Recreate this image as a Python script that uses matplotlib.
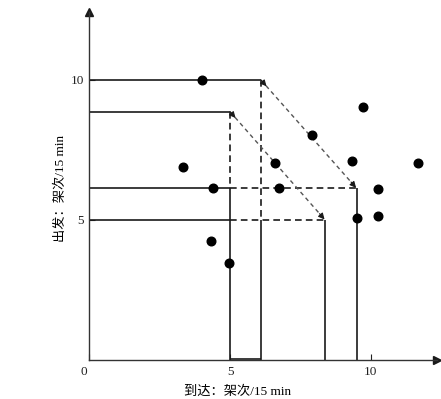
import numpy as np
import matplotlib
matplotlib.use('Agg')
import matplotlib.pyplot as plt
import matplotlib.transforms as mtransforms

plt.rcParams['font.family'] = ['Liberation Serif', 'Noto Sans CJK SC']

# observed (arrivals, departures) per 15 min
arr_pts = [3.99, 9.74, 7.91, 3.32, 9.32, 6.61, 11.69, 4.41, 6.73, 10.26, 9.50, 10.26, 4.34, 4.98]
dep_pts = [10.0, 9.03, 8.02, 6.90, 7.12, 7.05, 7.05, 6.15, 6.13, 6.10, 5.08, 5.14, 4.24, 3.45]

# capacity envelopes: corner (arr, dep) -> end (arr, dep)
cap_a_arr = [6.1, 9.5]
cap_a_dep = [10.0, 6.13]
cap_b_arr = [5.0, 8.38]
cap_b_dep = [8.87, 5.0]

x_ticks = [0, 5, 10]
y_ticks = [5, 10]

fig = plt.figure(figsize=(4.41, 3.99), dpi=100)
ax = fig.add_axes([89.3 / 441, 39 / 399, 347.7 / 441, 348 / 399])
ax.set_xlim(0, 347.7 / 28.14)
ax.set_ylim(0, 348 / 28.0)

lc = '#1a1a1a'
lw = 1.2
solid = dict(color=lc, lw=lw, solid_capstyle='butt')
dash = dict(color=lc, lw=lw, ls=(0, (4, 2.5)))

a0, a1 = cap_a_arr
d0, d1 = cap_a_dep
b0, b1 = cap_b_arr
e0, e1 = cap_b_dep

# solid outlines
ax.plot([0, a0], [d0, d0], **solid)
ax.plot([0, b0], [e0, e0], **solid)
ax.plot([0, b0], [d1, d1], **solid)
ax.plot([0, b0], [e1, e1], **solid)
ax.plot([b0, b0], [d1, 0], **solid)
ax.plot([a0, a0], [e1, 0], **solid)
ax.plot([b1, b1], [e1, 0], **solid)
ax.plot([a1, a1], [d1, 0], **solid)
ax.plot([b0, a0], [0.03, 0.03], **solid)

# dashed parts
ax.plot([a0, a0], [d0, e1], **dash)
ax.plot([b0, b0], [e0, d1], **dash)
ax.plot([b0, a1], [d1, d1], **dash)
ax.plot([b0, b1], [e1, e1], **dash)

# diagonal trade-off lines with small heads at both ends
for xs, ys in [(cap_a_arr, cap_a_dep), (cap_b_arr, cap_b_dep)]:
    ax.plot(xs, ys, color='#555555', lw=1.0, ls=(0, (3, 2.5)))
    dx, dy = xs[1] - xs[0], ys[1] - ys[0]
    n = np.hypot(dx, dy)
    ux, uy = dx / n * 0.3, dy / n * 0.3
    ax.annotate('', xy=(xs[0] + ux, ys[0] + uy), xytext=(xs[0], ys[0]),
                arrowprops=dict(arrowstyle='-|>', color=lc, lw=0.8,
                                mutation_scale=9, shrinkA=0, shrinkB=0))
    ax.annotate('', xy=(xs[1] - 0.02, ys[1] + 0.02), xytext=(xs[1] - ux, ys[1] - uy),
                arrowprops=dict(arrowstyle='-|>', color=lc, lw=0.8,
                                mutation_scale=9, shrinkA=0, shrinkB=0))

ax.plot(arr_pts, dep_pts, 'o', color='black', ms=6.2, zorder=5)

# axes with arrowheads
for s in ['top', 'right']:
    ax.spines[s].set_visible(False)
for s in ['left', 'bottom']:
    ax.spines[s].set_color('#333333')
    ax.spines[s].set_linewidth(1.0)
ax.plot(1, 0, '>', color=lc, ms=5.5, transform=ax.get_yaxis_transform(), clip_on=False)
ax.plot(0, 1, '^', color=lc, ms=5.5, transform=ax.get_xaxis_transform(), clip_on=False)

ax.set_xticks(x_ticks)
ax.set_yticks(y_ticks)
ax.tick_params(direction='in', length=4, width=0.8, labelsize=9.5, pad=4, colors='#222222')

# the origin label sits a little left of the axis
lbl0 = ax.get_xticklabels()[0]
lbl0.set_transform(lbl0.get_transform() + mtransforms.ScaledTranslation(-5 / 100, 0, fig.dpi_scale_trans))

ax.set_xlabel('到达：架次/15 min', fontsize=9.5)
ax.set_ylabel('出发：架次/15 min', fontsize=9.5)
ax.xaxis.set_label_coords((237.5 - 89.3) / 347.7, -31.7 / 348)
ax.xaxis.label.set_va('center')
ax.yaxis.set_label_coords((61 - 89.3) / 347.7, (360 - 188) / 348)
ax.yaxis.label.set_va('center')

fig.savefig('out.png', dpi=100)
